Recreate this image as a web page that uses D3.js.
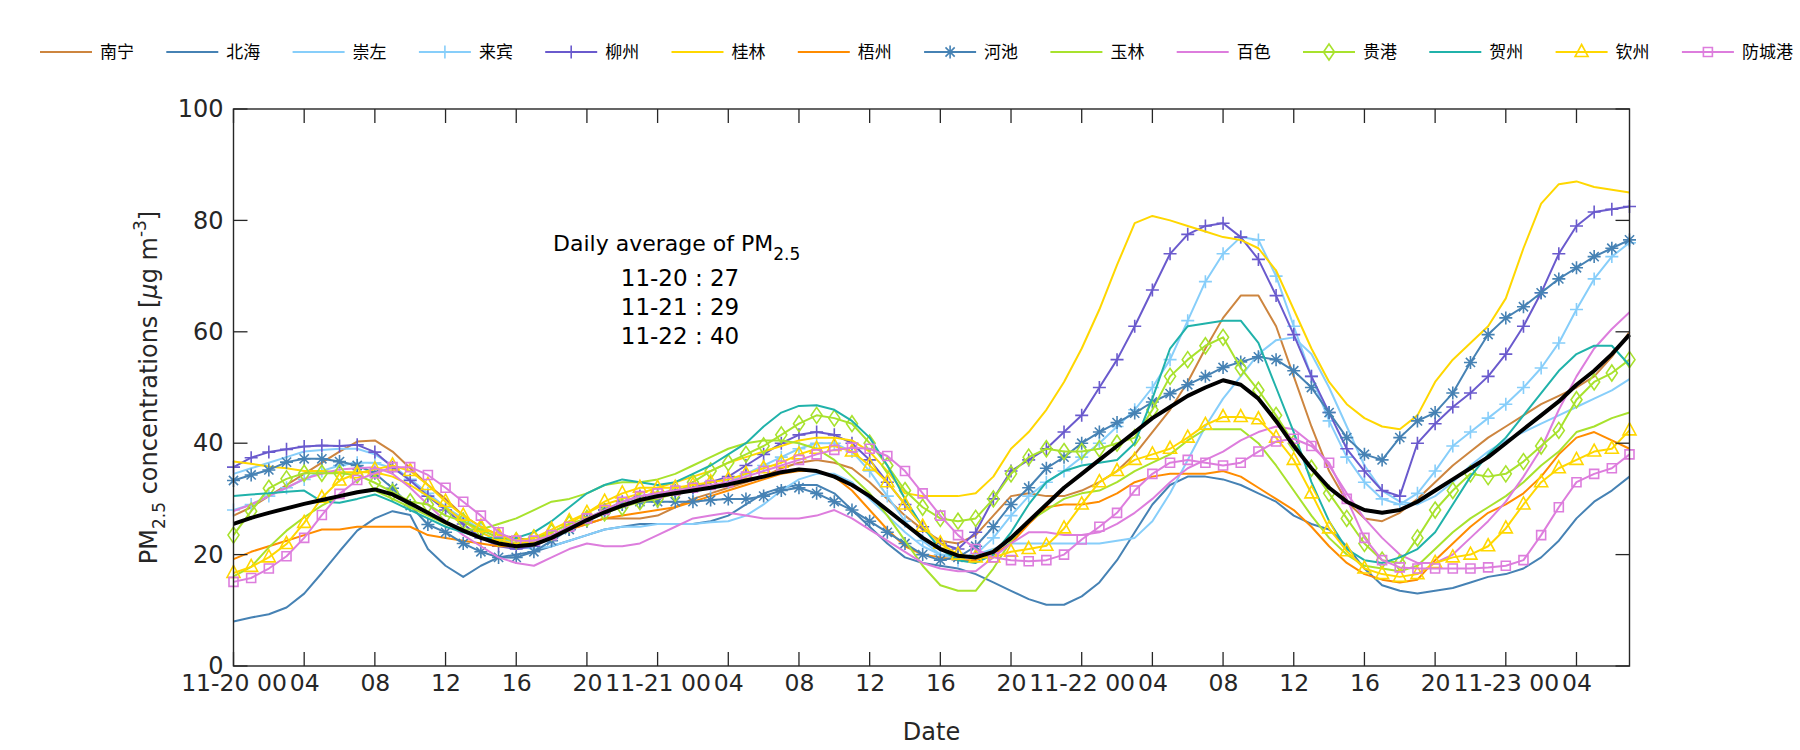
<!DOCTYPE html>
<html>
<head>
<meta charset="utf-8">
<script src="https://cdn.jsdelivr.net/npm/d3@7"></script>
<style>
  html, body { margin: 0; padding: 0; background: #ffffff; }
  svg { display: block; }
</style>
</head>
<body>
<svg id="chart" width="1800" height="750"></svg>
<script>
// ---------------- DATA ----------------
const hours = d3.range(80); // hourly index from 11-20 00

const tickHours = [0, 4, 8, 12, 16, 20, 24, 28, 32, 36, 40, 44, 48, 52, 56, 60, 64, 68, 72, 76];
const tickLabels = ["11-20 00", "04", "08", "12", "16", "20", "11-21 00", "04", "08", "12", "16", "20",
                    "11-22 00", "04", "08", "12", "16", "20", "11-23 00", "04"];
const yTicks = [0, 20, 40, 60, 80, 100];

const cityNames = ["南宁", "北海", "崇左", "来宾", "柳州", "桂林", "梧州", "河池", "玉林", "百色", "贵港", "贺州", "钦州", "防城港"];

const nanning = [27, 28.5, 30.5, 32.5, 34.5, 36.5, 38.5, 40.3, 40.5, 38.5,
  35.5, 32.5, 30, 27, 25, 23.5, 23, 22.5, 23.5, 24.5,
  25.5, 26.5, 26.5, 26.5, 27, 28.5, 30, 31, 32, 33,
  34, 35.5, 36.5, 37, 36.5, 35.5, 33, 30, 27, 24.5,
  22.5, 22, 23.5, 27, 30.5, 31, 30.5, 30.5, 31.5, 33,
  35, 38, 42, 46, 51, 57, 62.5, 66.5, 66.5, 61,
  52, 43, 35, 29.5, 26.5, 26, 27.5, 30, 33, 36,
  38.5, 41, 43, 45, 47, 48.5, 50, 52, 55.5, 60];
const beihai = [8, 8.7, 9.3, 10.5, 13, 16.7, 20.6, 24.3, 26.5, 27.8,
  27.1, 21, 18, 16, 18, 19.5, 20, 20.5, 21.5, 22.5,
  23.5, 24.5, 25, 25.5, 25.5, 25.5, 25.5, 26, 27, 29,
  31, 32, 32.5, 32.5, 31, 28, 25, 22, 19.5, 18.5,
  18, 17.5, 16.5, 15, 13.5, 12, 11, 11, 12.5, 15,
  19, 24, 29, 32.5, 34, 34, 33.5, 32.5, 31, 29.5,
  27, 25.5, 24.5, 21.5, 17.5, 14.5, 13.5, 13, 13.5, 14,
  15, 16, 16.5, 17.5, 19.5, 22.5, 26.5, 29.5, 31.5, 34];
const chongzuo = [34.5, 35.5, 36.5, 37.5, 38.5, 38.8, 39, 39, 38, 36,
  33.5, 31, 28.5, 26, 24, 22.5, 21.5, 21, 21.5, 22.5,
  23.5, 24.5, 25, 25, 25.5, 25.5, 25.5, 25.8, 26, 27,
  29, 31.5, 33.5, 34.5, 34.5, 33, 30, 27, 24, 21.5,
  20, 19.5, 20, 21, 22, 22, 22, 22, 22, 22,
  22.5, 23, 26, 31, 37, 43, 48, 52, 56, 58.5,
  59, 56, 50, 43, 36, 31.5, 29.5, 29, 30.5, 33,
  36, 38.5, 40.5, 42, 43.5, 45, 46.5, 48, 49.5, 51.5];
const laibin = [28, 29, 30.5, 32, 33.5, 35, 36, 36.5, 36.5, 35.5,
  33.5, 31, 28.5, 26.5, 24.5, 23, 22, 22, 23, 24.5,
  26, 27.5, 29, 30, 30.5, 31, 31.5, 32, 33, 34.5,
  36, 37.5, 39, 40, 40, 38.5, 35, 30.5, 26, 22.5,
  20, 19, 20, 23, 27, 30.5, 33, 35, 37.5, 40,
  43, 46, 50, 55, 62, 69, 74, 77, 76.5, 70,
  61, 52, 44, 37.5, 33, 30, 29, 31, 35, 39.5,
  42, 44.5, 47, 50, 53.5, 58, 64, 69.5, 73.5, 76];
const liuzhou = [35.7, 37.4, 38.4, 38.9, 39.4, 39.6, 39.5, 39.7, 38.4, 35.7,
  33.3, 30.5, 28, 25.5, 23, 21.5, 21, 21.5, 23, 24.5,
  26, 28, 29.5, 30.5, 31, 31.5, 32, 33, 34, 36,
  38, 40, 41.5, 42, 41.5, 40, 37, 33, 29, 25,
  22, 21, 24, 30, 35, 37, 39, 42, 45, 50,
  55, 61, 67.5, 74, 77.5, 79, 79.5, 77, 73, 66.5,
  59.5, 52, 45.5, 39, 35, 31.5, 30.5, 40, 43.5, 46.5,
  49, 52, 56, 61, 67, 74, 79, 81.5, 82, 82.5];
const guilin = [36.7, 36.3, 35.8, 35.5, 35, 35, 34.8, 34.8, 34.8, 34,
  32.5, 30.5, 28.5, 26, 24, 22.5, 22, 22.5, 24, 25.5,
  27.5, 29, 30, 31, 32, 33, 34, 35, 36.5, 37.5,
  38.5, 39.5, 40.5, 41, 41, 40.5, 38.5, 35, 31, 30.5,
  30.5, 30.5, 31, 34, 39, 42, 46, 51, 57, 64,
  72, 79.5, 80.8, 80, 79, 78, 77, 76.5, 75, 71,
  64, 57, 51, 47, 44.5, 43, 42.5, 45, 51, 55,
  58, 61, 66, 75, 83, 86.5, 87, 86, 85.5, 85];
const wuzhou = [19.2, 20.5, 21.5, 22.5, 23.5, 24.5, 24.5, 25, 25, 25,
  25, 23.5, 23, 22.5, 22, 21.5, 21.5, 22, 23, 24.5,
  25.5, 26.5, 27, 27.5, 28, 28.5, 29.5, 30.5, 31.5, 32.5,
  33.5, 34.5, 35, 35, 34, 31.5, 28, 24.5, 21.5, 20,
  19.5, 19, 19, 20, 22, 25.5, 28.5, 29, 29, 29.5,
  31, 33, 34, 34.5, 34.5, 34.5, 35, 34, 32, 30,
  28, 25, 21.5, 18.5, 16.5, 15.5, 15, 15.5, 19, 22,
  25, 27.5, 29, 31, 34, 38, 41, 42, 40.5, 39];
const hechi = [33.3, 34.3, 35.2, 36.6, 37.2, 37.2, 36.7, 36, 34.6, 31.9,
  28.8, 25.4, 24, 22, 20.5, 19.5, 19.5, 20.5, 22.5, 24.5,
  26.5, 28, 29, 29.5, 29.5, 29.5, 29.5, 29.8, 30, 30,
  30.5, 31.5, 32, 31, 29.5, 28, 26, 24, 22, 20,
  19, 19.5, 21.5, 25, 29, 32, 35.5, 37.5, 40, 42,
  43.7, 45.4, 47.4, 48.9, 50.5, 52, 53.6, 54.6, 55.5, 55,
  53, 50, 45.5, 41, 38, 37, 41, 44, 45.5, 49,
  54.5, 59.5, 62.5, 64.5, 67, 69.5, 71.5, 73.5, 75, 76.5];
const yulin = [16.1, 17.8, 21.3, 24.3, 26.7, 28.8, 30.5, 31.2, 31.5, 30,
  28.5, 27, 25.5, 24.5, 24.5, 25.5, 26.5, 28, 29.5, 30,
  31, 32.5, 33, 33, 33.5, 34.5, 36, 37.5, 39, 40,
  40.5, 40.5, 40, 39, 37, 34, 31, 27, 22.5, 18,
  14.5, 13.5, 13.5, 17.5, 22.5, 26, 28, 30, 31, 31.5,
  33, 35, 36.5, 38, 40.5, 42.5, 42.5, 42.5, 40, 36,
  31.5, 27, 23, 20, 18, 17.5, 17, 18, 21, 24,
  26.5, 28.5, 30.5, 33, 36, 38.5, 42, 43, 44.5, 45.5];
const baise = [27.8, 29, 30.5, 32, 33.6, 34.5, 35.3, 35.5, 35.7, 34.5,
  32, 29, 26, 23.5, 21.5, 19.5, 18.5, 18, 19.5, 21,
  22, 21.5, 21.5, 22, 23.5, 25, 26.5, 27, 27.5, 27,
  26.5, 26.5, 26.5, 27, 28, 26.5, 24.5, 22.5, 20.5, 18.5,
  17.5, 17, 17, 19.5, 22, 24, 24, 23.5, 23.5, 24,
  25.5, 27.5, 30, 33, 35.5, 37, 38.5, 40.5, 42, 43,
  42.5, 40, 36, 31, 26.5, 23, 20, 18.5, 18.5, 20,
  23, 26, 29.5, 34, 39, 46, 52, 57, 60.5, 63.5];
const guigang = [23.5, 27.8, 31.9, 33.6, 34.6, 34.6, 34.6, 34.3, 32.9, 31.2,
  29.5, 29, 27, 26, 24.5, 23, 22.5, 23, 24, 25.5,
  26.5, 27.5, 28.5, 29.5, 30, 31, 33, 35, 36.5, 38,
  39.5, 41.5, 43.5, 45, 44.5, 43.5, 40, 36, 31.5, 28.5,
  26.5, 26, 26.5, 30, 34.5, 37.5, 39, 38.5, 38.5, 39,
  40, 41, 46, 52, 55, 57.5, 59, 53.5, 49.5, 45,
  40, 35.5, 31, 26.5, 22, 19, 18.5, 23, 28, 31.5,
  34.5, 34, 34.5, 36.7, 39.5, 42.3, 47.8, 51, 52.6, 55];
const hezhou = [30.5, 30.8, 31, 31.3, 31.5, 29.5, 29.3, 30, 30.8, 29.5,
  28, 26.5, 25, 24, 23, 23, 23, 24, 26, 28.5,
  31, 32.5, 33.5, 33, 32.5, 33, 34.5, 36, 38, 40,
  43, 45.5, 46.7, 46.8, 46, 44, 41, 36, 30, 25,
  21, 19, 18.5, 20, 24, 29, 33, 35, 36, 36.5,
  37, 40, 48, 57, 61, 61.5, 62, 62, 58, 50,
  42, 33, 26, 21, 19, 18.5, 19.5, 21, 24, 29,
  34, 38, 41, 45, 49, 53, 56, 57.5, 57.5, 54];
const qinzhou = [16.7, 17.8, 19.5, 21.9, 25.7, 30.2, 33.3, 34.6, 35.3, 36,
  35, 32.5, 29.5, 27, 25, 23.5, 22.5, 23, 24.5, 26,
  27.5, 29.5, 31, 32, 32, 32, 32.5, 33, 33.5, 34.5,
  35.5, 36.5, 38, 39, 39.5, 38.5, 36, 33, 29, 25,
  22, 20, 19.5, 19.5, 20.5, 21, 21.6, 24.7, 29, 33,
  35, 37, 38, 39, 41, 43.3, 44.7, 44.7, 44.3, 41,
  37, 31, 24.7, 20.6, 17.5, 16.5, 16, 16.5, 18.5, 19.5,
  20, 21.5, 24.7, 29, 33, 35.5, 37, 38.5, 39, 42.3];
const fangchenggang = [15.1, 15.8, 17.5, 19.7, 23, 27.1, 30.9, 33.4, 34.6, 35.7,
  35.7, 34.3, 32, 29.5, 27, 24, 22.5, 22.5, 23.5, 25,
  26.5, 28, 29.5, 30.5, 31, 31.5, 32, 32.5, 33, 34,
  35, 36, 37, 38, 38.8, 39.2, 39, 37.7, 35, 31,
  27, 23.5, 21, 19.5, 19, 18.8, 19, 20, 22.7, 25,
  27.5, 31.5, 34.5, 36.5, 37, 36.5, 36, 36.5, 38.5, 40.3,
  40.8, 39.5, 36.5, 30, 23, 19, 17.7, 17.5, 17.5, 17.5,
  17.5, 17.7, 18, 19, 23.5, 28.5, 33, 34.5, 35.5, 38];
const average = [25.5, 26.6, 27.5, 28.3, 29.1, 29.8, 30.5, 31.2, 31.7, 30.8,
  29.2, 27.5, 25.8, 24.3, 23, 22, 21.5, 21.8, 23, 24.6,
  26.2, 27.6, 28.8, 29.8, 30.5, 31, 31.5, 32, 32.6, 33.3,
  34, 34.8, 35.3, 35, 34, 32.5, 30.5, 28, 25.5, 23,
  21, 19.8, 19.5, 20.5, 23, 26, 29, 32, 34.5, 37,
  39.5, 42, 44.5, 46.5, 48.5, 50, 51.3, 50.5, 48, 44,
  39.5, 35.5, 32, 29.5, 28, 27.5, 28, 29.5, 31.5, 33.5,
  35.5, 37.5, 40, 42.5, 45, 47.5, 50.5, 53, 56, 59.5];

const cityValues = [nanning, beihai, chongzuo, laibin, liuzhou, guilin, wuzhou, hechi, yulin, baise, guigang, hezhou, qinzhou, fangchenggang];
const cityColors = ["#CD853F", "#4682B4", "#87CEFA", "#87CEFA", "#6A5ACD", "#FFD700", "#FF8C00", "#4682B4",
                    "#A8E22D", "#DD7DDD", "#A8E22D", "#20B2AA", "#FFD700", "#DD7DDD"];
const cityMarkers = ["none", "none", "none", "plus", "plus", "none", "none", "star", "none", "none", "diamond", "none", "triangle", "square"];

const dailyAvgLabels = ["11-20 : 27", "11-21 : 29", "11-22 : 40"];

// ---------------- CHART ----------------
(function draw() {
const svg = d3.select("#chart");
const W = 1800, H = 750;
const pL = 233.5, pR = 1629.5, pT = 109, pB = 666;
const axisColor = "#262626";
const font = "'DejaVu Sans', sans-serif";

svg.append("rect").attr("x", 0).attr("y", 0).attr("width", W).attr("height", H).attr("fill", "#ffffff");

const x = d3.scaleLinear().domain([0, 79]).range([pL, pR]);
const y = d3.scaleLinear().domain([0, 100]).range([pB, pT]);

const markerPath = {
  plus: "M-6.5,0H6.5M0,-6.5V6.5",
  star: "M-6.5,0H6.5M0,-6.5V6.5M-4.6,-4.6L4.6,4.6M-4.6,4.6L4.6,-4.6",
  diamond: "M0,-8L5.5,0L0,8L-5.5,0Z",
  triangle: "M0,-7.5L6.5,4.5L-6.5,4.5Z",
  square: "M-4.5,-4.5H4.5V4.5H-4.5Z"
};

const plot = svg.append("g");
const line = d3.line().x((d, i) => x(hours[i])).y(d => y(d));

cityValues.forEach((vals, ci) => {
  plot.append("path")
    .attr("d", line(vals))
    .attr("fill", "none")
    .attr("stroke", cityColors[ci])
    .attr("stroke-width", 2)
    .attr("stroke-linejoin", "round");
  if (cityMarkers[ci] !== "none") {
    plot.selectAll(null).data(vals).enter().append("path")
      .attr("transform", (d, i) => `translate(${x(hours[i])},${y(d)})`)
      .attr("d", markerPath[cityMarkers[ci]])
      .attr("fill", "none")
      .attr("stroke", cityColors[ci])
      .attr("stroke-width", 1.6);
  }
});

plot.append("path")
  .attr("d", line(average))
  .attr("fill", "none")
  .attr("stroke", "#000000")
  .attr("stroke-width", 4)
  .attr("stroke-linejoin", "round");

// axes box
const axG = svg.append("g");
const xBottom = d3.axisBottom(x).tickValues(tickHours).tickSize(0).tickFormat((d, i) => tickLabels[i]);
const gx = axG.append("g").attr("transform", `translate(0,${pB})`).call(xBottom);
gx.select(".domain").remove();
gx.selectAll("text").attr("font-family", font).attr("font-size", 23.5).attr("fill", axisColor).attr("dy", "0.95em");

const yLeft = d3.axisLeft(y).tickValues(yTicks).tickSize(0).tickFormat(d3.format("d"));
const gy = axG.append("g").attr("transform", `translate(${pL},0)`).call(yLeft);
gy.select(".domain").remove();
gy.selectAll("text").attr("font-family", font).attr("font-size", 24).attr("fill", axisColor).attr("x", -10);

axG.append("rect").attr("x", pL).attr("y", pT).attr("width", pR - pL).attr("height", pB - pT)
  .attr("fill", "none").attr("stroke", axisColor).attr("stroke-width", 1.4);

const tl = 14;
tickHours.forEach(h => {
  axG.append("line").attr("x1", x(h)).attr("x2", x(h)).attr("y1", pB).attr("y2", pB - tl).attr("stroke", axisColor).attr("stroke-width", 1.3);
  axG.append("line").attr("x1", x(h)).attr("x2", x(h)).attr("y1", pT).attr("y2", pT + tl).attr("stroke", axisColor).attr("stroke-width", 1.3);
});
yTicks.forEach(v => {
  axG.append("line").attr("x1", pL).attr("x2", pL + tl).attr("y1", y(v)).attr("y2", y(v)).attr("stroke", axisColor).attr("stroke-width", 1.3);
  axG.append("line").attr("x1", pR).attr("x2", pR - tl).attr("y1", y(v)).attr("y2", y(v)).attr("stroke", axisColor).attr("stroke-width", 1.3);
});

// axis titles
svg.append("text").attr("x", (pL + pR) / 2).attr("y", 740).attr("text-anchor", "middle")
  .attr("font-family", font).attr("font-size", 24).attr("fill", axisColor).text("Date");

const yl = svg.append("text").attr("transform", `translate(157,${(pT + pB) / 2}) rotate(-90)`)
  .attr("text-anchor", "middle").attr("font-family", font).attr("font-size", 24).attr("fill", axisColor);
yl.append("tspan").text("PM");
yl.append("tspan").attr("font-size", 17).attr("dy", 8).text("2.5");
yl.append("tspan").attr("dy", -8).text(" concentrations [");
yl.append("tspan").attr("font-style", "italic").text("μ");
yl.append("tspan").text("g m");
yl.append("tspan").attr("font-size", 17).attr("dy", -11).text("-3");
yl.append("tspan").attr("dy", 11).text("]");

// annotation
const ann = svg.append("text").attr("x", 553).attr("y", 251).attr("font-family", font).attr("font-size", 22).attr("fill", "#000");
ann.append("tspan").text("Daily average of PM");
ann.append("tspan").attr("font-size", 17).attr("dy", 9).text("2.5");
dailyAvgLabels.forEach((t, i) => {
  svg.append("text").attr("x", 680).attr("y", 286 + i * 29).attr("text-anchor", "middle")
    .attr("font-family", font).attr("font-size", 23).attr("fill", "#000").text(t);
});

// legend
const lg = svg.append("g");
cityNames.forEach((name, ci) => {
  const x0 = 40 + ci * 126.3;
  const ly = 52;
  lg.append("line").attr("x1", x0).attr("x2", x0 + 52).attr("y1", ly).attr("y2", ly)
    .attr("stroke", cityColors[ci]).attr("stroke-width", 2);
  if (cityMarkers[ci] !== "none") {
    lg.append("path").attr("transform", `translate(${x0 + 26},${ly})`).attr("d", markerPath[cityMarkers[ci]])
      .attr("fill", "none").attr("stroke", cityColors[ci]).attr("stroke-width", 1.6);
  }
  lg.append("text").attr("x", x0 + 60).attr("y", ly).attr("dy", "0.35em")
    .attr("font-family", "'Noto Sans CJK SC', sans-serif").attr("font-size", 17).attr("fill", "#000").text(name);
});
})();
</script>
</body>
</html>
